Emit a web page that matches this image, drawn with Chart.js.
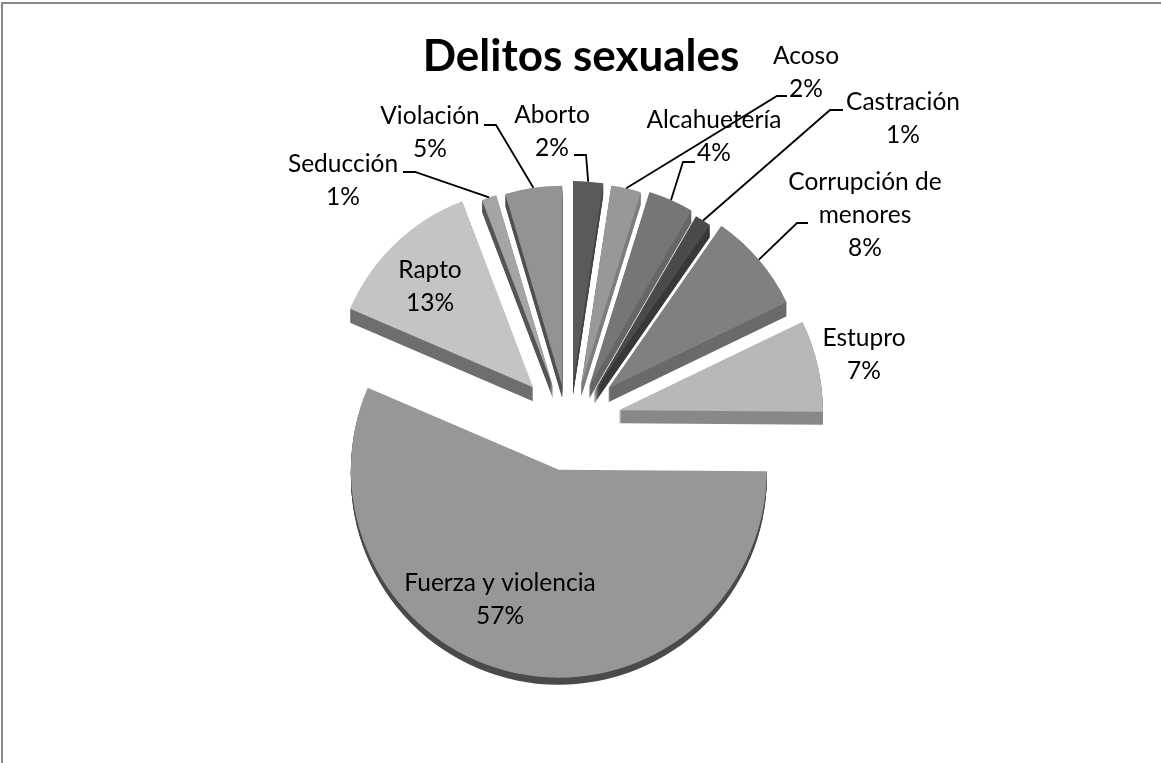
<!DOCTYPE html>
<html>
<head>
<meta charset="utf-8">
<title>Delitos sexuales</title>
<script src="https://cdn.jsdelivr.net/npm/chart.js@4"></script>
<style>
    html, body { margin: 0; padding: 0; background: #fff; overflow: hidden; }
    #wrap { position: relative; width: 1161px; height: 763px; }
    #frameTop { position: absolute; left: 1px; top: 2px; width: 1160px; height: 2px; background: #888; }
    #frameLeft { position: absolute; left: 1px; top: 2px; width: 2px; height: 761px; background: #888; }
    canvas { position: absolute; left: 0; top: 0; }
</style>
</head>
<body>
<div id="wrap">
    <canvas id="pie" width="1161" height="763"></canvas>
    <div id="frameTop"></div>
    <div id="frameLeft"></div>
</div>
<script>
var chartTitle = 'Delitos sexuales';
var categories = ['Aborto', 'Acoso', 'Alcahuetería', 'Castración', 'Corrupción de menores', 'Estupro', 'Fuerza y violencia', 'Rapto', 'Seducción', 'Violación'];
var shares = [2.4, 2.4, 3.6, 1.3, 8.2, 7.3, 56.5, 12.8, 1.2, 4.6];
var shareLabels = ['2%', '2%', '4%', '1%', '8%', '7%', '57%', '13%', '1%', '5%'];

// styling per slice
var topColors = ['#5a5a5a', '#989898', '#767676', '#4a4a4a', '#808080', '#b8b8b8', '#979797', '#c4c4c4', '#a5a5a5', '#939393'];
var rimColors = ['#444444', '#7d7d7d', '#666666', '#383838', '#6a6a6a', '#888888', '#4a4a4a', '#6e6e6e', '#555555', '#505050'];
var rimDepths = [12, 12, 12, 12, 14, 13, 7, 14, 12, 12];

// how far each slice is pulled out along its middle angle, the extra vertical
// shift the 3d view gives it, and its radius after the foreshortening
var explode = [27, 45, 45, 42, 49, 49, 59, 55, 56, 62];
var drop = [-15, 4, 3, 3, -5, -4, -13, 2, 15, 22];
var sliceRadius = [202, 202, 204, 204, 198, 204, 208, 199, 200, 200];

// label layout: text position, then the leader line start and elbow
var labelLines = [['Aborto'], ['Acoso'], ['Alcahuetería'], ['Castración'], ['Corrupción de', 'menores'], ['Estupro'], ['Fuerza y violencia'], ['Rapto'], ['Seducción'], ['Violación']];
var labelPos = [[552, 115], [806, 56], [714, 120], [903, 102], [865, 182], [864, 338], [500, 583], [430, 270], [343, 164], [430, 116]];
var leaders = [
    [[574, 155], [586, 155]], [[787, 96], [777, 96]], [[695, 162], [683, 162]], [[843, 110], [830, 110]],
    [[808, 223], [797, 223]], null, null, null, [[403, 172], [415, 172]], [[484, 125], [496, 125]]
];

var fontName = 'Lato, Carlito, Calibri, "Open Sans", sans-serif';

// Chart.js offset also grows the radius, so pull the slices out here instead
var explodePlugin = {
    id: 'explodeSlices',
    afterDatasetUpdate: function(chart) {
        chart.getDatasetMeta(0).data.forEach(function(arc, i) {
            var mid = (arc.startAngle + arc.endAngle) / 2;
            arc.x += Math.cos(mid) * explode[i];
            arc.y += Math.sin(mid) * explode[i] + drop[i];
            arc.outerRadius = sliceRadius[i];
        });
    }
};

// the side of each slice: the same sector repeated downwards under the top face
var rimPlugin = {
    id: 'rim',
    beforeDatasetsDraw: function(chart) {
        var ctx = chart.ctx;
        chart.getDatasetMeta(0).data.forEach(function(arc, i) {
            ctx.save();
            ctx.fillStyle = rimColors[i];
            for (var d = 1; d <= rimDepths[i]; d++) {
                ctx.beginPath();
                ctx.moveTo(arc.x, arc.y + d);
                ctx.arc(arc.x, arc.y + d, arc.outerRadius, arc.startAngle, arc.endAngle);
                ctx.closePath();
                ctx.fill();
            }
            ctx.restore();
        });
    }
};

var labelPlugin = {
    id: 'sliceLabels',
    afterDatasetsDraw: function(chart) {
        var ctx = chart.ctx;
        var arcs = chart.getDatasetMeta(0).data;
        ctx.save();
        ctx.strokeStyle = '#000';
        ctx.lineWidth = 1.8;
        arcs.forEach(function(arc, i) {
            if (!leaders[i]) return;
            var mid = (arc.startAngle + arc.endAngle) / 2;
            ctx.beginPath();
            ctx.moveTo(leaders[i][0][0], leaders[i][0][1]);
            ctx.lineTo(leaders[i][1][0], leaders[i][1][1]);
            ctx.lineTo(arc.x + Math.cos(mid) * arc.outerRadius, arc.y + Math.sin(mid) * arc.outerRadius);
            ctx.stroke();
        });
        ctx.fillStyle = '#000';
        ctx.textAlign = 'center';
        ctx.textBaseline = 'middle';
        ctx.font = 'bold 44px ' + fontName;
        ctx.fillText(chartTitle, 581, 57);
        ctx.font = '24.5px ' + fontName;
        categories.forEach(function(name, i) {
            var lines = labelLines[i].concat([shareLabels[i]]);
            lines.forEach(function(line, n) {
                ctx.fillText(line, labelPos[i][0], labelPos[i][1] + n * 33);
            });
        });
        ctx.restore();
    }
};

var pieChart = new Chart(document.getElementById('pie').getContext('2d'), {
    type: 'pie',
    data: {
        labels: categories,
        datasets: [{
            data: shares,
            backgroundColor: topColors,
            borderWidth: 0
        }]
    },
    options: {
        responsive: false,
        animation: false,
        events: [],
        radius: 204,
        layout: { padding: { left: 0, right: 19, top: 87, bottom: 0 } },
        plugins: {
            legend: { display: false },
            tooltip: { enabled: false }
        }
    },
    plugins: [explodePlugin, rimPlugin, labelPlugin]
});
</script>
</body>
</html>
